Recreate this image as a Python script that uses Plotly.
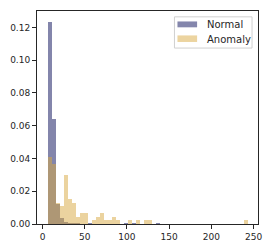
import numpy as np
import plotly.graph_objects as go

# Shared histogram bins (50 bins from ~6.2 to ~243.1)
bin_start = 6.2
bin_end = 243.1
n_bins = 50

# Density values, one per bin
normal_density = [0.1230, 0.0639, 0.0125, 0.0038, 0.0013, 0.0006, 0.0006, 0.0006, 0.0, 0.0,
                  0.0006, 0.0, 0.0, 0.0, 0.0, 0.0, 0.0, 0.0, 0.0, 0.0006,
                  0.0, 0.0006, 0.0, 0.0, 0.0, 0.0, 0.0, 0.0006, 0.0, 0.0,
                  0.0, 0.0, 0.0, 0.0, 0.0, 0.0, 0.0, 0.0, 0.0, 0.0,
                  0.0, 0.0, 0.0, 0.0, 0.0, 0.0, 0.0, 0.0, 0.0, 0.0]
anomaly_density = [0.0409, 0.0366, 0.0129, 0.0108, 0.0301, 0.0151, 0.0129, 0.0043, 0.0065, 0.0065,
                   0.0, 0.0022, 0.0043, 0.0065, 0.0022, 0.0022, 0.0043, 0.0022, 0.0, 0.0,
                   0.0022, 0.0, 0.0022, 0.0, 0.0022, 0.0022, 0.0, 0.0, 0.0, 0.0,
                   0.0, 0.0, 0.0, 0.0, 0.0, 0.0, 0.0, 0.0, 0.0, 0.0,
                   0.0, 0.0, 0.0, 0.0, 0.0, 0.0, 0.0, 0.0, 0.0, 0.0022]

series_names = ["Normal", "Anomaly"]
series_colors = ["rgb(9,13,89)", "rgb(217,169,65)"]

x_ticks = [0, 50, 100, 150, 200, 250]
y_ticks = [0.00, 0.02, 0.04, 0.06, 0.08, 0.10, 0.12]

edges = np.linspace(bin_start, bin_end, n_bins + 1)
centers = (edges[:-1] + edges[1:]) / 2
width = edges[1] - edges[0]

fig = go.Figure()
for name, dens, col in zip(series_names, [normal_density, anomaly_density], series_colors):
    fig.add_trace(go.Bar(x=centers, y=dens, width=width, name=name, showlegend=False,
                         marker=dict(color=col, line=dict(width=0)), opacity=0.5))

axis_common = dict(showline=True, linecolor="#262626", linewidth=1, mirror=True,
                   ticks="outside", ticklen=4, tickcolor="#262626", tickwidth=1,
                   showgrid=False, zeroline=False,
                   tickfont=dict(family="DejaVu Sans", size=9, color="#262626"))

# Matplotlib-style legend box drawn in paper coordinates
shapes = [dict(type="rect", xref="paper", yref="paper", x0=0.622, x1=0.973, y0=0.826, y1=0.9725,
               line=dict(color="#d0d0d0", width=1), fillcolor="rgba(255,255,255,0.8)", layer="above")]
annotations = []
sw_y = [(0.9234, 0.9509), (0.8546, 0.8853)]
txt_y = [0.9358, 0.8670]
for i, (name, col) in enumerate(zip(series_names, series_colors)):
    shapes.append(dict(type="rect", xref="paper", yref="paper", x0=0.6356, x1=0.7244,
                       y0=sw_y[i][0], y1=sw_y[i][1], line=dict(width=0),
                       fillcolor=col, opacity=0.5, layer="above"))
    annotations.append(dict(text=name, xref="paper", yref="paper", x=0.762, y=txt_y[i],
                            xanchor="left", yanchor="middle", showarrow=False,
                            font=dict(family="DejaVu Sans", size=10, color="#262626")))

fig.update_layout(
    width=272, height=252,
    margin=dict(l=36, r=11, t=10, b=24),
    paper_bgcolor="white", plot_bgcolor="white",
    barmode="overlay", bargap=0,
    showlegend=False,
    shapes=shapes, annotations=annotations,
    xaxis=dict(range=[-6.6, 255.3], tickvals=x_ticks, **axis_common),
    yaxis=dict(range=[0, 0.130], tickvals=y_ticks, tickformat=".2f", **axis_common),
)

fig.write_html("out.html", config={"displayModeBar": False},
               post_script="document.body.style.margin='0';")
